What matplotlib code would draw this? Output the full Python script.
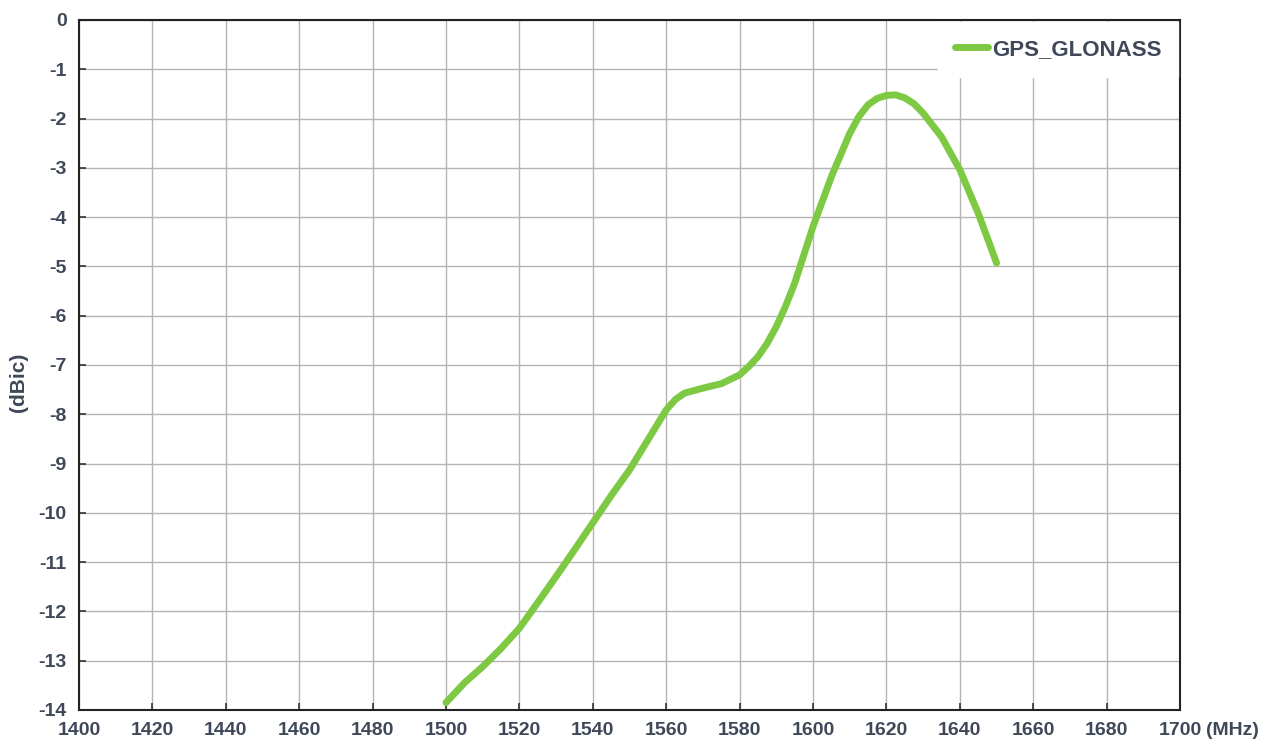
import matplotlib.pyplot as plt

plt.rcParams['axes.unicode_minus'] = False

# data
freq = [1500, 1505, 1510, 1515, 1520, 1525, 1530, 1535, 1540, 1545, 1550, 1555,
        1560, 1562.5, 1565, 1570, 1575, 1580, 1582.5, 1585, 1587.5, 1590, 1592.5,
        1595, 1600, 1605, 1610, 1612.5, 1615, 1617.5, 1620, 1622.5, 1625, 1627.5,
        1630, 1635, 1640, 1645, 1650]
gain = [-13.85, -13.45, -13.12, -12.75, -12.34, -11.82, -11.29, -10.75, -10.2, -9.65, -9.13, -8.52,
        -7.91, -7.7, -7.57, -7.47, -7.38, -7.2, -7.03, -6.83, -6.56, -6.22, -5.81,
        -5.34, -4.19, -3.18, -2.3, -1.96, -1.72, -1.59, -1.53, -1.52, -1.58, -1.7,
        -1.89, -2.37, -3.04, -3.92, -4.93]
xticks = list(range(1400, 1701, 20))
yticks = list(range(-14, 1))

fam = 'Liberation Sans'
txt_col = '#3f4859'

fig = plt.figure(figsize=(12.69, 7.54), dpi=100)
ax = fig.add_axes([0.0623, 0.0584, 0.8676, 0.9151])

ax.plot(freq, gain, color='#7dc943', lw=5, solid_capstyle='round',
        solid_joinstyle='round', label='GPS_GLONASS', zorder=3)

ax.set_xlim(1400, 1700)
ax.set_ylim(-14, 0)
ax.set_xticks(xticks)
ax.set_yticks(yticks)
ax.grid(True, color='#b4b4b4', lw=1.0)
ax.set_axisbelow(True)
for s in ax.spines.values():
    s.set_color('#222222')
    s.set_linewidth(1.5)
ax.tick_params(direction='in', length=5, width=1.2, color='#333333',
               labelcolor=txt_col, pad=9)
for lab in ax.get_xticklabels() + ax.get_yticklabels():
    lab.set_fontfamily(fam)
    lab.set_fontweight('bold')
    lab.set_fontsize(14)

ax.annotate('(MHz)', xy=(1700, 0), xycoords=('data', 'axes fraction'),
            xytext=(19, -9), textcoords='offset points', ha='left', va='top',
            fontfamily=fam, fontweight='bold', fontsize=14, color=txt_col,
            annotation_clip=False)

ax.set_ylabel('(dBic)', fontfamily=fam, fontweight='bold',
              fontsize=15, color=txt_col)
ax.yaxis.set_label_coords(-0.046, 0.475)

leg = ax.legend(loc='upper right', frameon=True, fancybox=False,
                handlelength=1.5, handletextpad=0.15, borderaxespad=0.1,
                borderpad=0.75, prop={'family': fam, 'weight': 'bold', 'size': 16})
leg.get_frame().set_edgecolor('white')
leg.get_frame().set_facecolor('white')
leg.get_frame().set_alpha(1)
for t in leg.get_texts():
    t.set_color(txt_col)

fig.savefig('out.png', dpi=100)
